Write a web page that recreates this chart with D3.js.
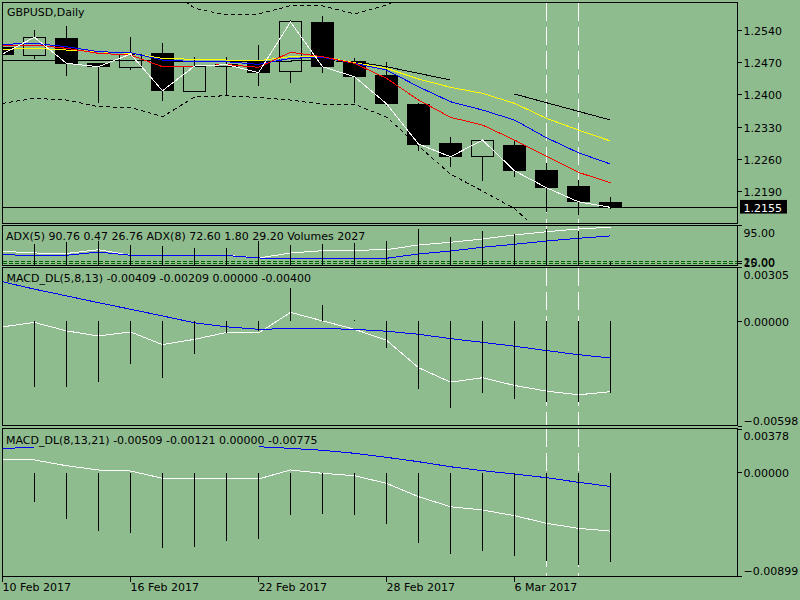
<!DOCTYPE html>
<html><head><meta charset="utf-8">
<script src="https://cdn.jsdelivr.net/npm/d3@7"></script>
<style>
body{margin:0;background:#8FBC8F}
svg{display:block}
text{font-family:"DejaVu Sans";font-size:11px}
</style>
</head><body>
<svg id="c" width="800" height="600"></svg>
<script>
// ---------- data ----------
const dates = ["10 Feb 2017","13 Feb 2017","14 Feb 2017","15 Feb 2017","16 Feb 2017","17 Feb 2017","20 Feb 2017","21 Feb 2017","22 Feb 2017","23 Feb 2017","24 Feb 2017","27 Feb 2017","28 Feb 2017","1 Mar 2017","2 Mar 2017","3 Mar 2017","6 Mar 2017","7 Mar 2017","8 Mar 2017","9 Mar 2017"];
const open  = [1.25023,1.24864,1.25234,1.24689,1.24593,1.24907,1.24079,1.24615,1.24739,1.24500,1.25574,1.24724,1.24434,1.23802,1.22945,1.22661,1.22908,1.22363,1.21998,1.21665];
const high  = [1.25100,1.25415,1.25502,1.24696,1.25256,1.25138,1.24833,1.24833,1.25088,1.25633,1.25720,1.24798,1.24724,1.23835,1.23089,1.23017,1.23001,1.22509,1.22145,1.21780];
const low   = [1.24820,1.24776,1.24412,1.23830,1.24543,1.23874,1.24075,1.23991,1.24194,1.24266,1.24484,1.23830,1.23758,1.22783,1.22421,1.22130,1.22216,1.21453,1.21381,1.21506];
const close = [1.24892,1.25256,1.24689,1.24615,1.24892,1.24092,1.24630,1.24659,1.24484,1.25590,1.24615,1.24397,1.23808,1.22930,1.22653,1.23017,1.22347,1.21977,1.21671,1.21550];
const maRed    = [1.25066,1.25088,1.25016,1.24907,1.24870,1.24615,1.24630,1.24663,1.24602,1.24929,1.24833,1.24689,1.24362,1.23889,1.23512,1.23344,1.23017,1.22668,1.22312,1.22086];
const maBlue   = [1.25103,1.25125,1.25051,1.24942,1.24920,1.24761,1.24728,1.24724,1.24667,1.24798,1.24820,1.24689,1.24543,1.24179,1.23852,1.23671,1.23453,1.23067,1.22740,1.22493];
const maYellow = [1.24994,1.25016,1.24979,1.24942,1.24907,1.24798,1.24776,1.24761,1.24746,1.24833,1.24833,1.24702,1.24580,1.24347,1.24166,1.24035,1.23817,1.23490,1.23235,1.22995];
const maBlack  = [1.24750,1.24750,1.24750,1.24746,1.24746,1.24739,1.24718,1.24718,1.24718,1.24739,1.24750,1.24724,1.24615,1.24471,1.24325,null,1.24020,1.23830,1.23642,1.23453];
const bandUpper = [null,null,null,null,null,1.26397,1.25888,1.25742,1.25764,1.25945,1.25939,1.25764,1.25960,1.26244,null,null,null,null,null,null];
const bandLower = [1.23817,1.23926,1.23889,1.23743,1.23730,1.23525,1.23954,1.23983,1.23943,1.23889,1.23797,1.23795,1.23518,1.22886,1.22275,1.21905,1.21523,1.20880,null,null];
const currentPrice = 1.2155;
const priceTicks = [1.2540,1.2470,1.2400,1.2330,1.2260,1.2190];

const adx5 = [40.5,37.0,35.9,43.9,32.2,32.2,32.2,32.2,26.5,37.0,41.8,42.6,43.9,53.7,59.3,66.2,74.5,81.4,87.1,90.76];
const adx8 = [33.4,31.7,32.2,39.0,32.2,31.7,31.7,31.7,26.5,25.9,25.9,25.9,25.9,34.9,41.1,48.9,55.1,62.0,67.7,72.6];
const volumes = [20000,17300,18750,19600,16800,16200,13700,13900,20300,16500,17500,18200,20300,30200,23600,28500,25900,30200,28700,2027];
const adxLevels = [20,15];
const adxTicks = [95,20,15];

const macd1Hist   = [-0.00300,-0.00374,-0.00374,-0.00346,-0.00243,-0.00321,-0.00184,-0.00067,-0.00055,0.00186,0.00091,0.00008,-0.00152,-0.00383,-0.00492,-0.00408,-0.00440,-0.00460,-0.00460,-0.00409];
const macd1Blue   = [0.00224,0.00182,0.00144,0.00105,0.00068,0.00030,-0.00009,-0.00032,-0.00046,-0.00042,-0.00042,-0.00046,-0.00057,-0.00074,-0.00099,-0.00120,-0.00142,-0.00167,-0.00190,-0.00209];
const macd1White  = [-0.00032,-0.00007,-0.00055,-0.00084,-0.00061,-0.00133,-0.00103,-0.00064,-0.00067,0.00050,0.00002,-0.00046,-0.00108,-0.00264,-0.00346,-0.00321,-0.00365,-0.00397,-0.00418,-0.00400];
const macd1Ticks  = [0.00305,0.00000,-0.00598];

const macd2Hist   = [-0.00180,-0.00254,-0.00404,-0.00508,-0.00523,-0.00653,-0.00645,-0.00592,-0.00578,-0.00369,-0.00361,-0.00369,-0.00447,-0.00610,-0.00708,-0.00682,-0.00725,-0.00769,-0.00804,-0.00775];
const macd2Blue   = [0.00207,0.00222,null,null,null,null,null,null,0.00224,0.00210,0.00193,0.00167,0.00132,0.00094,0.00050,0.00016,-0.00013,-0.00045,-0.00085,-0.00121];
const macd2White  = [0.00109,0.00109,0.00059,0.00022,0.00013,-0.00050,-0.00050,-0.00050,-0.00056,0.00022,-0.00007,-0.00028,-0.00094,-0.00210,-0.00297,-0.00326,-0.00375,-0.00441,-0.00485,-0.00509];
const macd2Ticks  = [0.00378,0.00000,-0.00899];

const xTickLabels = ["10 Feb 2017","16 Feb 2017","22 Feb 2017","28 Feb 2017","6 Mar 2017"];
const vlineDates  = ["7 Mar 2017","8 Mar 2017"];

const titleMain = "GBPUSD,Daily";
const titleAdx  = "ADX(5) 90.76 0.47 26.76 ADX(8) 72.60 1.80 29.20 Volumes 2027";
const titleM1   = "MACD_DL(5,8,13) -0.00409 -0.00209 0.00000 -0.00400";
const titleM2   = "MACD_DL(8,13,21) -0.00509 -0.00121 0.00000 -0.00775";

// ---------- layout ----------
const BG = "#8FBC8F";
const L = 2.5, R = 737.5;
const P = {
  main:{t:2.5,b:223.5},
  adx:{t:225.5,b:265.5},
  m1:{t:267.5,b:425.5},
  m2:{t:428.5,b:576.5}
};
const FONT = "DejaVu Sans";

const svg = d3.select("#c");
svg.append("rect").attr("width",800).attr("height",600).attr("fill",BG);
const defs = svg.append("defs");

const x = d3.scalePoint().domain(dates).range([2.5, 610.5]);
const yP  = d3.scaleLinear().domain([1.2190,1.2540]).range([191.3,30.7]);
const yA  = d3.scaleLinear().domain([15,95]).range([263.5,225.2]);
const yV  = d3.scaleLinear().domain([0,40000]).range([264.7,217.3]);
const yM1 = d3.scaleLinear().domain([-0.00598,0.00305]).range([426.5,267.5]);
const yM2 = d3.scaleLinear().domain([-0.00899,0.00378]).range([576,429]);

function panelGroup(id,p){
  defs.append("clipPath").attr("id",id).append("rect")
    .attr("x",L).attr("y",p.t).attr("width",R-L).attr("height",p.b-p.t);
  const g = svg.append("g").attr("clip-path",`url(#${id})`);
  // background vertical dashed lines
  g.selectAll("line.vl").data(vlineDates).join("line").attr("class","vl")
    .attr("x1",d=>x(d)).attr("x2",d=>x(d)).attr("y1",p.t).attr("y2",p.b)
    .attr("stroke","#fff").attr("stroke-width",1).attr("stroke-dasharray","18,6")
    .attr("shape-rendering","crispEdges");
  return g;
}
function drawLine(g,data,y,color,dash){
  g.append("path").datum(data)
    .attr("d",d3.line().defined(d=>d!=null).x((d,i)=>x(dates[i])).y(d=>y(d)))
    .attr("fill","none").attr("stroke",color).attr("stroke-width",1)
    .attr("stroke-dasharray",dash||null).attr("shape-rendering","crispEdges");
}
function drawHist(g,data,y,base){
  g.selectAll(null).data(data).join("line")
    .attr("x1",(d,i)=>x(dates[i])).attr("x2",(d,i)=>x(dates[i]))
    .attr("y1",y(base)).attr("y2",d=>y(d))
    .attr("stroke","#000").attr("stroke-width",1).attr("shape-rendering","crispEdges");
}

// ---------- main price panel ----------
const gm = panelGroup("cpMain",P.main);
gm.append("line").attr("x1",L).attr("x2",R).attr("y1",yP(currentPrice)).attr("y2",yP(currentPrice))
  .attr("stroke","#000").attr("shape-rendering","crispEdges");
const candles = dates.map((d,i)=>({d,o:open[i],h:high[i],l:low[i],c:close[i]}));
gm.selectAll("line.wick").data(candles).join("line").attr("class","wick")
  .attr("x1",d=>x(d.d)).attr("x2",d=>x(d.d)).attr("y1",d=>yP(d.h)).attr("y2",d=>yP(d.l))
  .attr("stroke","#000").attr("shape-rendering","crispEdges");
gm.selectAll("rect.body").data(candles).join("rect").attr("class","body")
  .attr("x",d=>x(d.d)-11).attr("width",22)
  .attr("y",d=>yP(Math.max(d.o,d.c))).attr("height",d=>Math.max(1,Math.abs(yP(d.o)-yP(d.c))))
  .attr("fill",d=>d.c>=d.o?BG:"#000").attr("stroke","#000").attr("shape-rendering","crispEdges");
drawLine(gm,bandUpper,yP,"#000","4,3");
drawLine(gm,bandLower,yP,"#000","4,3");
drawLine(gm,maBlack,yP,"#000");
drawLine(gm,maYellow,yP,"#FFFF00");
drawLine(gm,maBlue,yP,"#0000FF");
drawLine(gm,maRed,yP,"#FF0000");
drawLine(gm,close,yP,"#FFFFFF");

// ---------- ADX / volumes panel ----------
const ga = panelGroup("cpAdx",P.adx);
ga.selectAll("line.lvl").data(adxLevels).join("line").attr("class","lvl")
  .attr("x1",L).attr("x2",R).attr("y1",d=>yA(d)).attr("y2",d=>yA(d))
  .attr("stroke","#006400").attr("stroke-dasharray","4,2").attr("shape-rendering","crispEdges");
drawLine(ga,adx5,yA,"#FFFFFF");
drawLine(ga,adx8,yA,"#0000FF");
drawHist(ga,volumes,yV,0);

// ---------- MACD panels ----------
const g1 = panelGroup("cpM1",P.m1);
drawLine(g1,macd1White,yM1,"#FFFFFF");
drawLine(g1,macd1Blue,yM1,"#0000FF");
drawHist(g1,macd1Hist,yM1,0);

const g2 = panelGroup("cpM2",P.m2);
drawLine(g2,macd2White,yM2,"#FFFFFF");
drawLine(g2,macd2Blue,yM2,"#0000FF");
drawHist(g2,macd2Hist,yM2,0);

// ---------- borders ----------
Object.values(P).forEach(p=>{
  svg.append("rect").attr("x",L).attr("y",p.t).attr("width",R-L).attr("height",p.b-p.t)
    .attr("fill","none").attr("stroke","#000").attr("shape-rendering","crispEdges");
});

// ---------- panel titles ----------
function label(txt,xx,yy,color){
  svg.append("text").attr("x",xx).attr("y",yy).attr("fill",color||"#000")
    .attr("font-family",FONT).attr("font-size",11).text(txt);
}
label(titleMain,7,16);
label(titleAdx,6,239.5);
label(titleM1,6.5,282);
label(titleM2,6,443.5);

// ---------- right axes ----------
function rightAxis(y,vals,fmt,p,botLim){
  const g = svg.append("g").attr("transform",`translate(${R},0)`)
    .call(d3.axisRight(y).tickValues(vals).tickFormat(fmt).tickSize(4).tickPadding(2).offset(0));
  g.select(".domain").remove();
  g.selectAll("line").attr("stroke","#000").attr("shape-rendering","crispEdges");
  g.selectAll("text").attr("fill","#000").attr("font-family",FONT).attr("font-size",11)
    .attr("dy",0)
    .attr("y",d=>Math.max(p.t+11.5,Math.min(botLim,y(d)+4.5))-y(d));
  g.attr("font-family",null).attr("font-size",null);
}
rightAxis(yP,priceTicks,d3.format(".4f"),P.main,P.main.b-1);
rightAxis(yA,adxTicks,d3.format(".2f"),P.adx,P.adx.b+1);
rightAxis(yM1,macd1Ticks,d3.format(".5f"),P.m1,P.m1.b-1);
rightAxis(yM2,macd2Ticks,d3.format(".5f"),P.m2,P.m2.b-1.5);

// current price box
const cy = yP(currentPrice);
svg.append("rect").attr("x",740).attr("y",cy-7.4).attr("width",47).attr("height",13.6).attr("fill","#000");
label(d3.format(".4f")(currentPrice),743.5,cy+4.4,"#FFFFFF");

// ---------- x axis ----------
const gx = svg.append("g").attr("transform",`translate(0,${P.m2.b})`)
  .call(d3.axisBottom(x).tickValues(xTickLabels).tickSize(5).offset(0));
gx.select(".domain").remove();
gx.selectAll("line").attr("stroke","#000").attr("shape-rendering","crispEdges");
gx.selectAll("text").attr("fill","#000").attr("font-family",FONT).attr("font-size",11)
  .attr("text-anchor","start").attr("x",0).attr("dy",0).attr("y",14.5);
</script>
</body></html>
